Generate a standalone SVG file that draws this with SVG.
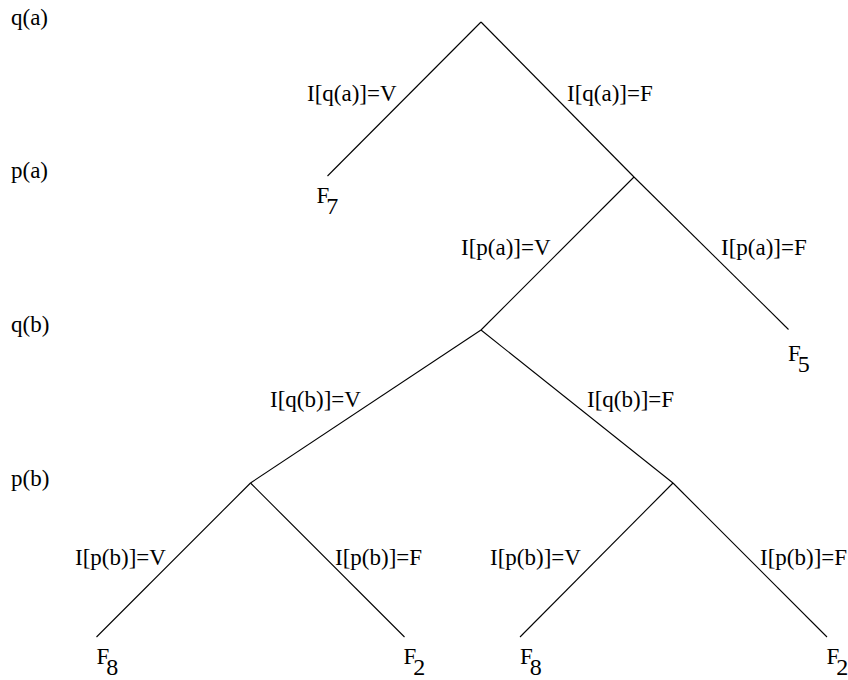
<svg xmlns="http://www.w3.org/2000/svg" width="848" height="680" viewBox="0 0 848 680" font-family="'Liberation Serif', 'Times New Roman', serif">
<style>
text{font-family:"Liberation Serif","Times New Roman",Times,serif;font-size:23px;fill:#000}
.sub{font-size:24px}
line{stroke:#000;stroke-width:1.1;fill:none}
</style>
<rect width="848" height="680" fill="#fff"/>
<g id="levels">
<text x="11" y="25">q(a)</text>
<text x="11" y="178">p(a)</text>
<text x="11" y="332">q(b)</text>
<text x="11" y="486">p(b)</text>
</g>
<g id="connectors">
<line x1="481" y1="22" x2="327.5" y2="176"/>
<line x1="481" y1="22" x2="634" y2="177"/>
<line x1="634" y1="177" x2="481" y2="330"/>
<line x1="634" y1="177" x2="788.5" y2="329.5"/>
<line x1="481" y1="330" x2="250.5" y2="483"/>
<line x1="481" y1="330" x2="673" y2="483"/>
<line x1="250.5" y1="483" x2="96.5" y2="637"/>
<line x1="250.5" y1="483" x2="404.5" y2="637"/>
<line x1="673" y1="483" x2="520" y2="637"/>
<line x1="673" y1="483" x2="827" y2="637"/>
</g>
<g id="edge-labels">
<text x="307" y="101">I[q(a)]=V</text>
<text x="567" y="101">I[q(a)]=F</text>
<text x="461" y="255">I[p(a)]=V</text>
<text x="721" y="255">I[p(a)]=F</text>
<text x="270" y="407">I[q(b)]=V</text>
<text x="587" y="407">I[q(b)]=F</text>
<text x="75" y="565">I[p(b)]=V</text>
<text x="335" y="565">I[p(b)]=F</text>
<text x="490" y="565">I[p(b)]=V</text>
<text x="760" y="565">I[p(b)]=F</text>
</g>
<g id="leaf-F7"><text x="316.5" y="203">F<tspan class="sub" dx="-3" dy="11">7</tspan></text></g>
<g id="leaf-F5"><text x="788" y="361">F<tspan class="sub" dx="-3" dy="11">5</tspan></text></g>
<g id="leaf-F8-a"><text x="96.5" y="664">F<tspan class="sub" dx="-3" dy="11">8</tspan></text></g>
<g id="leaf-F2-a"><text x="403.5" y="664">F<tspan class="sub" dx="-3" dy="11">2</tspan></text></g>
<g id="leaf-F8-b"><text x="520" y="664">F<tspan class="sub" dx="-3" dy="11">8</tspan></text></g>
<g id="leaf-F2-b"><text x="826.5" y="664">F<tspan class="sub" dx="-3" dy="11">2</tspan></text></g>
</svg>
